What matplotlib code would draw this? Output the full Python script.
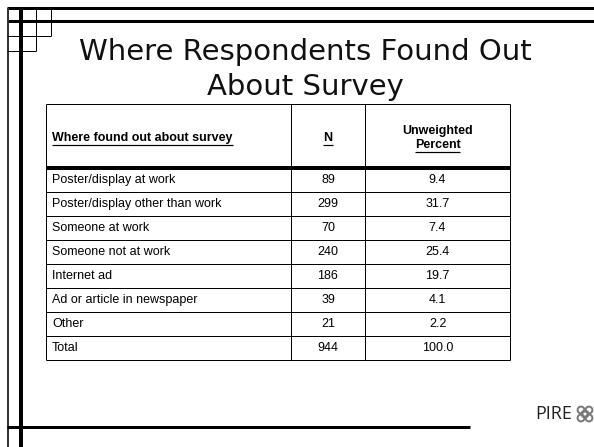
# Slide: where respondents found out about the survey (table)

import matplotlib
matplotlib.use('Agg')
import matplotlib.pyplot as plt
from matplotlib.patches import Circle

title_lines = ['Where Respondents Found Out', 'About Survey']
header = ['Where found out about survey', 'N', 'Unweighted\nPercent']
sources = ['Poster/display at work', 'Poster/display other than work',
           'Someone at work', 'Someone not at work', 'Internet ad',
           'Ad or article in newspaper', 'Other', 'Total']
counts = [89, 299, 70, 240, 186, 39, 21, 944]
percents = [9.4, 31.7, 7.4, 25.4, 19.7, 4.1, 2.2, 100.0]

W, H = 594, 447
fig = plt.figure(figsize=(W / 100, H / 100), dpi=100)
ax = fig.add_axes([0, 0, 1, 1])
ax.set_xlim(0, W)
ax.set_ylim(H, 0)
ax.axis('off')

px = 0.72  # one pixel in points

def hline(y, x0, x1, w=1, c='black'):
    ax.plot([x0, x1], [y, y], color=c, lw=w * px, solid_capstyle='butt')

def vline(x, y0, y1, w=1, c='black'):
    ax.plot([x, x], [y0, y1], color=c, lw=w * px, solid_capstyle='butt')

# slide frame
hline(8, 7, W, 3)
hline(21, 7, W, 3)
vline(8, 8, H, 2, '#333333')
vline(21, 8, H, 4)
hline(36, 7, 51)
hline(51, 7, 36)
vline(36, 8, 51)
vline(51, 8, 36)
hline(427, 7, 470, 3)

# title
for i, line in enumerate(title_lines):
    ax.text(305, 52 + i * 35, line, fontsize=21, family='DejaVu Sans',
            ha='center', va='center', color='#111111')

# table layout
left, c1, c2, right = 46, 291, 365, 510
top, head_bot, row_h = 104, 168, 24
bottom = head_bot + row_h * len(sources)
fnt = dict(family='Liberation Sans', fontsize=9, color='black')

hline(top, left, right)
hline(head_bot, left, right, 4)
for i in range(1, len(sources) + 1):
    hline(head_bot + i * row_h, left, right)
for x in (left, c1, c2, right):
    vline(x, top, bottom)

hy = (top + head_bot) / 2 + 2
underline = []
t = ax.text(left + 6, hy, header[0], ha='left', va='center', weight='bold', **fnt)
underline.append(t)
t = ax.text((c1 + c2) / 2, hy, header[1], ha='center', va='center', weight='bold', **fnt)
underline.append(t)
top_word, bot_word = header[2].split('\n')
ax.text((c2 + right) / 2, hy - 7, top_word, ha='center', va='center', weight='bold', **fnt)
t = ax.text((c2 + right) / 2, hy + 7, bot_word, ha='center', va='center', weight='bold', **fnt)
underline.append(t)

for i, (s, n, p) in enumerate(zip(sources, counts, percents)):
    y = head_bot + (i + 0.5) * row_h
    ax.text(left + 6, y, s, ha='left', va='center', **fnt)
    ax.text((c1 + c2) / 2, y, str(n), ha='center', va='center', **fnt)
    ax.text((c2 + right) / 2, y, f'{p:.1f}', ha='center', va='center', **fnt)

# underline the header words
fig.canvas.draw()
inv = ax.transData.inverted()
for t in underline:
    bb = t.get_window_extent()
    (x0, y0), (x1, y1) = inv.transform([[bb.x0, bb.y0], [bb.x1, bb.y1]])
    hline(y0 + 1, x0, x1, 1.2)

# PIRE logo
ax.text(554, 414, 'PIRE', fontsize=13, family='Open Sans', ha='center',
        va='center', color='#222222')
for dx, dy in [(-4, -4), (4, -4), (-4, 4), (4, 4), (0, 0)]:
    ax.add_patch(Circle((585 + dx, 414 + dy), 3.4, fill=False,
                        ec='#7a7a7a', lw=2 * px))

fig.savefig('out.png', dpi=100)
